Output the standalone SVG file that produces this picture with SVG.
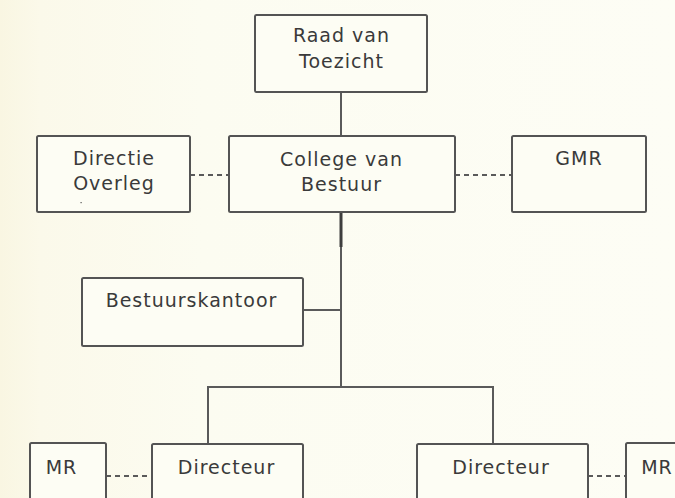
<svg xmlns="http://www.w3.org/2000/svg" width="675" height="498" viewBox="0 0 675 498">
<defs>
<linearGradient id="bg" x1="0" y1="0" x2="1" y2="0">
<stop offset="0" stop-color="#f9f6e2"/>
<stop offset="0.06" stop-color="#fbf9ea"/>
<stop offset="0.3" stop-color="#fcfcf1"/>
<stop offset="1" stop-color="#fdfdf5"/>
</linearGradient>
<style>
.box{fill:#fdfdf4;stroke:#545454;stroke-width:2}
.t{font-family:"DejaVu Sans","Verdana",sans-serif;font-size:19px;letter-spacing:1px;fill:#3a3a3a;text-anchor:middle}
.ln{stroke:#5a5a5a;stroke-width:2;fill:none}
.dash{stroke:#5a5a5a;stroke-width:2;stroke-dasharray:5,4;fill:none}
</style>
</defs>
<rect width="675" height="498" fill="url(#bg)"/>
<g id="connectors">
<line class="ln" x1="341" y1="92" x2="341" y2="136"/>
<line x1="341" y1="212" x2="341" y2="247" stroke="#3e3e3e" stroke-width="3"/>
<line class="ln" x1="341" y1="247" x2="341" y2="387"/>
<line class="ln" x1="303" y1="310" x2="341" y2="310"/>
<polyline class="ln" points="208,444 208,387 493,387 493,444"/>
<line class="dash" x1="190" y1="175" x2="229" y2="175"/>
<line class="dash" x1="455" y1="175" x2="512" y2="175"/>
<line class="dash" x1="106" y1="476" x2="152" y2="476"/>
<line class="dash" x1="588" y1="476" x2="626" y2="476"/>
</g>
<g id="raad">
<rect class="box" x="255" y="15" width="172" height="77" rx="1.5"/>
<text class="t" x="341.5" y="42">Raad van</text>
<text class="t" x="341.5" y="68">Toezicht</text>
</g>
<g id="college">
<rect class="box" x="229" y="136" width="226" height="76" rx="1.5"/>
<text class="t" x="341.5" y="165.5">College van</text>
<text class="t" x="341.5" y="191">Bestuur</text>
</g>
<g id="directie-overleg">
<rect class="box" x="37" y="136" width="153" height="76" rx="1.5"/>
<text class="t" x="114" y="165">Directie</text>
<text class="t" x="114" y="190">Overleg</text>
<rect x="80.5" y="202" width="1.2" height="1.2" fill="#555"/>
</g>
<g id="gmr">
<rect class="box" x="512" y="136" width="134" height="76" rx="1.5"/>
<text class="t" x="579" y="165">GMR</text>
</g>
<g id="bestuurskantoor">
<rect class="box" x="82" y="278" width="221" height="68" rx="1.5"/>
<text class="t" x="191.5" y="307">Bestuurskantoor</text>
</g>
<g id="directeur-links">
<rect class="box" x="152" y="444" width="151" height="70" rx="1.5"/>
<text class="t" x="226.5" y="474">Directeur</text>
</g>
<g id="mr-links">
<rect class="box" x="30" y="443" width="76" height="70" rx="1.5"/>
<text class="t" x="61.5" y="474">MR</text>
</g>
<g id="directeur-rechts">
<rect class="box" x="417" y="444" width="171" height="70" rx="1.5"/>
<text class="t" x="501" y="474">Directeur</text>
</g>
<g id="mr-rechts">
<rect class="box" x="626" y="443" width="76" height="70" rx="1.5"/>
<text class="t" x="657" y="474">MR</text>
</g>
</svg>
